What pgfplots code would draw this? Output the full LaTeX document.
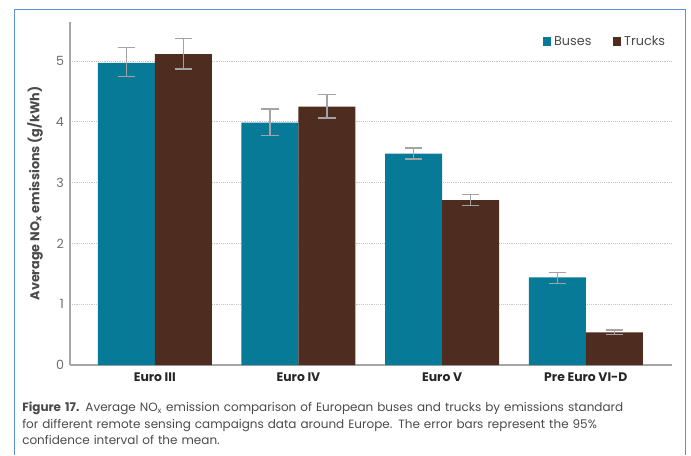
\documentclass[border=0pt]{standalone}
\usepackage{fontspec}
\setmainfont{Poppins}
\usepackage{pgfplots}
\pgfplotsset{compat=1.18}
\definecolor{busc}{HTML}{077A98}
\definecolor{truckc}{HTML}{4E2D20}
\definecolor{errc}{HTML}{A3A3A3}
\definecolor{framec}{HTML}{5E90D6}
\definecolor{txtc}{HTML}{4A4A4A}
\begin{document}
\begin{tikzpicture}
\path[use as bounding box] (0,0) rectangle (518.25pt,-341.25pt);
\draw[framec, line width=1.1pt] (10.875pt,-341.25pt) -- (10.875pt,-7.125pt) -- (514.125pt,-7.125pt) -- (514.125pt,-341.25pt);
\begin{axis}[
  at={(52.5pt,-273.75pt)}, anchor=south west,
  scale only axis, width=451.5pt, height=257.25pt,
  ybar=0pt, bar width=42.75pt,
  xmin=-0.59, xmax=3.6, ymin=0, ymax=5.64,
  xtick={0,1,2,3},
  xticklabels={Euro III, Euro IV, Euro V, Pre Euro VI-D},
  ytick={0,1,2,3,4,5},
  axis x line*=bottom, axis y line*=left,
  axis line style={draw=gray!70, line width=0.8pt, -},
  major tick length=0pt,
  ymajorgrids, grid style={densely dotted, gray!45, line width=0.6pt},
  /pgf/number format/assume math mode=true,
  yticklabel style={font=\fontsize{9.5}{11}\selectfont, text=txtc!80, xshift=-1pt},
  xticklabel style={font=\fontsize{9.3}{11}\selectfont\bfseries, text=black!85, yshift=-2pt},
  ylabel={Average NO\textsubscript{x} emissions (g/kWh)},
  ylabel style={at={(axis description cs:-0.058,0.5)}, anchor=center, font=\fontsize{9.6}{11}\selectfont\bfseries, text=txtc},
  legend columns=2,
  legend style={at={(1,0.9415)}, anchor=east, draw=none, fill=none,
    font=\fontsize{9.6}{11}\selectfont, text=txtc,
    /tikz/every even column/.append style={column sep=14pt}},
  legend image code/.code={\fill[#1] (0pt,-3pt) rectangle (6.5pt,3.5pt);},
  error bars/y dir=both, error bars/y explicit,
  error bars/error bar style={errc, line width=1.1pt},
  error bars/error mark options={rotate=90, errc, mark size=6.5pt, line width=1.1pt},
]
\addplot[fill=busc, draw=none] coordinates {
  (0,4.97) += (0,0.25) -= (0,0.23)
  (1,3.985) += (0,0.225) -= (0,0.215)
  (2,3.475) += (0,0.095) -= (0,0.085)
  (3,1.44) += (0,0.08) -= (0,0.10)
};
\addplot[fill=truckc, draw=none] coordinates {
  (0,5.11) += (0,0.26) -= (0,0.24)
  (1,4.25) += (0,0.20) -= (0,0.19)
  (2,2.71) += (0,0.09) -= (0,0.09)
  (3,0.535) += (0,0.04) -= (0,0.035)
};
\legend{Buses, Trucks}
\end{axis}
\node[anchor=north west, text width=500pt, align=left, inner sep=0pt, text=txtc,
  font=\fontsize{9}{12.4}\selectfont] at (16.5pt,-301.5pt)
  {\textbf{Figure 17.} Average NO\textsubscript{x} emission comparison of European buses and trucks by emissions standard\\
  for different remote sensing campaigns data around Europe. The error bars represent the 95\%\\
  confidence interval of the mean.};
\end{tikzpicture}
\end{document}
